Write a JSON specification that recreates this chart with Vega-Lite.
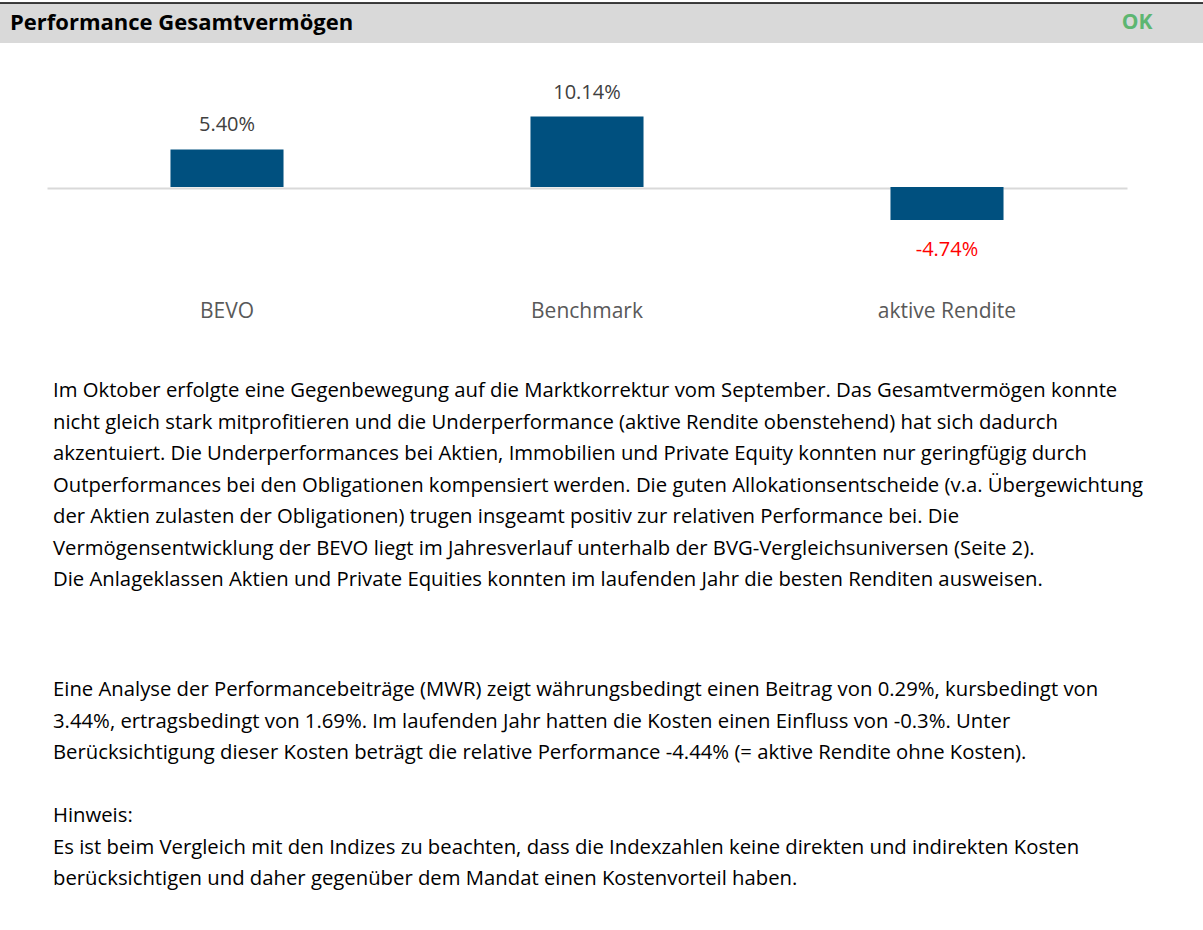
{
  "$schema": "https://vega.github.io/schema/vega-lite/v6.json",
  "width": 1203,
  "height": 930,
  "autosize": {"type": "none"},
  "padding": 0,
  "background": "#ffffff",
  "config": {"view": {"stroke": null}, "font": "Open Sans"},
  "datasets": {
    "header": [
      {"section": "Kopf", "role": "title", "label": "Performance Gesamtvermögen"},
      {"section": "Kopf", "role": "status", "label": "OK"}
    ],
    "bars": [
      {"cat": "BEVO", "value": 5.40, "label": "5.40%"},
      {"cat": "Benchmark", "value": 10.14, "label": "10.14%"},
      {"cat": "aktive Rendite", "value": -4.74, "label": "-4.74%"}
    ],
    "lines": [
      {"line": 0, "text": "Im Oktober erfolgte eine Gegenbewegung auf die Marktkorrektur vom September. Das Gesamtvermögen konnte"},
      {"line": 1, "text": "nicht gleich stark mitprofitieren und die Underperformance (aktive Rendite obenstehend) hat sich dadurch"},
      {"line": 2, "text": "akzentuiert. Die Underperformances bei Aktien, Immobilien und Private Equity konnten nur geringfügig durch"},
      {"line": 3, "text": "Outperformances bei den Obligationen kompensiert werden. Die guten Allokationsentscheide (v.a. Übergewichtung"},
      {"line": 4, "text": "der Aktien zulasten der Obligationen) trugen insgeamt positiv zur relativen Performance bei. Die"},
      {"line": 5, "text": "Vermögensentwicklung der BEVO liegt im Jahresverlauf unterhalb der BVG-Vergleichsuniversen (Seite 2)."},
      {"line": 6, "text": "Die Anlageklassen Aktien und Private Equities konnten im laufenden Jahr die besten Renditen ausweisen."},
      {"line": 9.5, "text": "Eine Analyse der Performancebeiträge (MWR) zeigt währungsbedingt einen Beitrag von 0.29%, kursbedingt von"},
      {"line": 10.5, "text": "3.44%, ertragsbedingt von 1.69%. Im laufenden Jahr hatten die Kosten einen Einfluss von -0.3%. Unter"},
      {"line": 11.5, "text": "Berücksichtigung dieser Kosten beträgt die relative Performance -4.44% (= aktive Rendite ohne Kosten)."},
      {"line": 13.5, "text": "Hinweis:"},
      {"line": 14.5, "text": "Es ist beim Vergleich mit den Indizes zu beachten, dass die Indexzahlen keine direkten und indirekten Kosten"},
      {"line": 15.5, "text": "berücksichtigen und daher gegenüber dem Mandat einen Kostenvorteil haben."}
    ]
  },
  "resolve": {"scale": {"x": "independent", "y": "independent"}, "axis": {"x": "independent", "y": "independent"}},
  "layer": [
    {
      "data": {"name": "header"},
      "layer": [
        {
          "transform": [{"filter": "datum.role == 'title'"}],
          "mark": {"type": "rect", "color": "#d9d9d9"},
          "encoding": {
            "y": {"field": "section", "type": "nominal", "scale": {"range": [3, 43], "paddingInner": 0, "paddingOuter": 0}, "axis": null}
          }
        },
        {
          "transform": [{"filter": "datum.role == 'title'"}],
          "mark": {"type": "rule", "color": "#000000", "strokeWidth": 1.5},
          "encoding": {
            "y": {"field": "section", "type": "nominal", "bandPosition": 0, "axis": null}
          }
        },
        {
          "transform": [{"filter": "datum.role == 'title'"}],
          "mark": {"type": "text", "align": "left", "baseline": "middle", "font": "Open Sans", "fontWeight": "bold", "fontSize": 22, "color": "#000000"},
          "encoding": {
            "x": {"field": "role", "type": "nominal", "scale": {"type": "point", "domain": ["title", "status"], "range": [10, 1137], "padding": 0}, "axis": null},
            "y": {"field": "section", "type": "nominal", "axis": null},
            "text": {"field": "label"}
          }
        },
        {
          "transform": [{"filter": "datum.role == 'status'"}],
          "mark": {"type": "text", "align": "center", "baseline": "middle", "font": "Open Sans", "fontWeight": "bold", "fontSize": 21, "color": "#5db671"},
          "encoding": {
            "x": {"field": "role", "type": "nominal", "axis": null},
            "y": {"field": "section", "type": "nominal", "axis": null},
            "text": {"field": "label"}
          }
        }
      ]
    },
    {
      "data": {"name": "bars"},
      "layer": [
        {
          "mark": {"type": "bar", "color": "#00507f"},
          "encoding": {
            "x": {
              "field": "cat", "type": "nominal", "sort": null,
              "scale": {"range": [47, 1127], "paddingInner": 0.686, "paddingOuter": 0.343},
              "axis": {
                "orient": "bottom", "offset": -742, "title": null,
                "domain": true, "domainColor": "#d9d9d9", "domainWidth": 2,
                "ticks": false, "grid": false, "labelAngle": 0,
                "labelPadding": 112, "labelFont": "Open Sans", "labelFontSize": 21, "labelColor": "#595959"
              }
            },
            "y": {"field": "value", "type": "quantitative", "scale": {"domain": [-10, 20], "range": [256.5, 48], "nice": false}, "axis": null}
          }
        },
        {
          "transform": [{"filter": "datum.value >= 0"}],
          "mark": {"type": "text", "baseline": "middle", "dy": -24, "font": "Open Sans", "fontSize": 20, "color": "#404040"},
          "encoding": {
            "x": {"field": "cat", "type": "nominal", "sort": null},
            "y": {"field": "value", "type": "quantitative"},
            "text": {"field": "label"}
          }
        },
        {
          "transform": [{"filter": "datum.value < 0"}],
          "mark": {"type": "text", "baseline": "middle", "dy": 30, "font": "Open Sans", "fontSize": 20, "color": "#ff0000"},
          "encoding": {
            "x": {"field": "cat", "type": "nominal", "sort": null},
            "y": {"field": "value", "type": "quantitative"},
            "text": {"field": "label"}
          }
        }
      ]
    },
    {
      "data": {"name": "lines"},
      "mark": {"type": "text", "align": "left", "baseline": "alphabetic", "font": "Open Sans", "fontSize": 20.3, "color": "#000000"},
      "encoding": {
        "x": {"datum": 0, "type": "quantitative", "scale": {"domain": [0, 1], "range": [53, 1150]}, "axis": null},
        "y": {"field": "line", "type": "quantitative", "scale": {"domain": [0, 10], "range": [397, 712], "nice": false, "zero": false}, "axis": null},
        "text": {"field": "text"}
      }
    }
  ]
}
